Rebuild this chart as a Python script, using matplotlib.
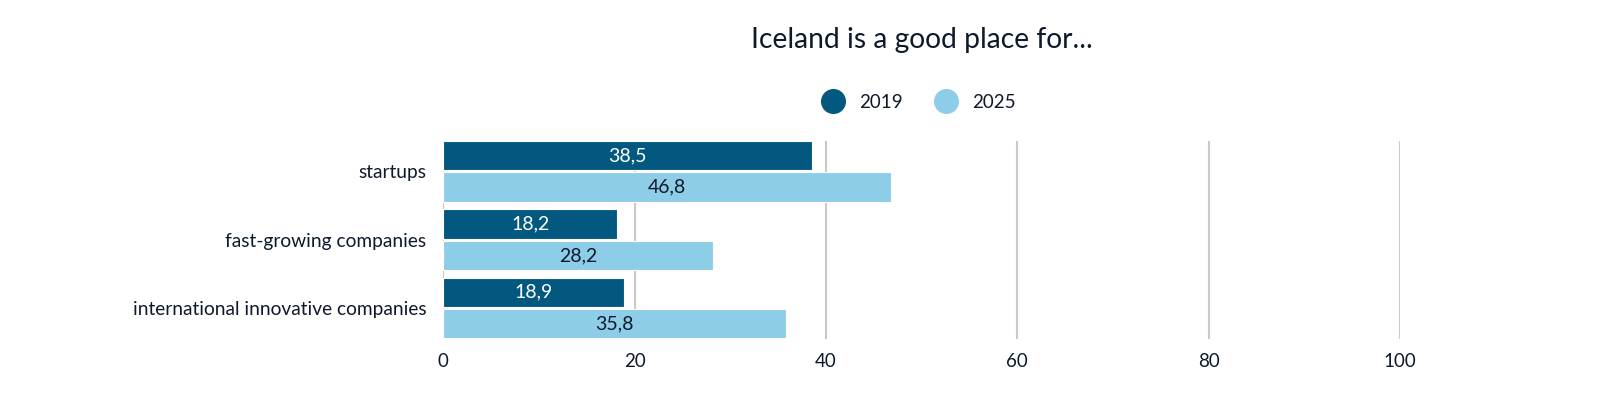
import numpy as np
import matplotlib.pyplot as plt
from matplotlib.lines import Line2D

plt.rcParams["font.family"] = ["Lato", "DejaVu Sans"]

categories = ["startups", "fast-growing companies", "international innovative companies"]
series_names = ["2019", "2025"]
values_2019 = [38.5, 18.2, 18.9]
values_2025 = [46.8, 28.2, 35.8]
x_ticks = [0, 20, 40, 60, 80, 100]

DARK = "#02587f"
LIGHT = "#8ecde8"
TEXT = "#0e1a2b"
GRID = "#c9c9c9"


def fmt(v):
    return f"{v:.1f}".replace(".", ",")


fig = plt.figure(figsize=(16, 3.96), dpi=100)
ax = fig.add_axes([0.277, 0.144, 0.598, 0.500])

y = np.arange(len(categories))
off, h = 0.23, 0.43
bars_a = ax.barh(y - off, values_2019, height=h, color=DARK, edgecolor="white", linewidth=0.8, zorder=3)
bars_b = ax.barh(y + off, values_2025, height=h, color=LIGHT, edgecolor="white", linewidth=0.8, zorder=3)

for bars, vals, col in [(bars_a, values_2019, "white"), (bars_b, values_2025, TEXT)]:
    for b, v in zip(bars, vals):
        ax.text(v / 2, b.get_y() + b.get_height() / 2, fmt(v), ha="center", va="center",
                color=col, fontsize=14, zorder=4)

ax.set_xlim(0, 100)
ax.set_ylim(2.453, -0.446)
ax.set_xticks(x_ticks)
ax.set_xticklabels([str(t) for t in x_ticks], fontsize=13.5, color=TEXT)
ax.set_yticks(y)
ax.set_yticklabels(categories, fontsize=13.8, color=TEXT)
ax.tick_params(axis="both", length=0, pad=12)
ax.tick_params(axis="x", pad=10)
ax.grid(axis="x", color=GRID, linewidth=1.5, zorder=0)
ax.grid(axis="y", visible=False)
for s in ax.spines.values():
    s.set_visible(False)

fig.text(0.576, 0.90, "Iceland is a good place for...", ha="center", va="center",
         fontsize=20.3, color=TEXT)

handles = [Line2D([], [], marker="o", linestyle="", markersize=17, color=c)
           for c in (DARK, LIGHT)]
fig.legend(handles, series_names, loc="center", bbox_to_anchor=(0.572, 0.742), ncol=2,
           frameon=False, fontsize=13.5, handletextpad=0.4, columnspacing=1.3,
           labelcolor=TEXT)

fig.savefig("out.png", dpi=100)
